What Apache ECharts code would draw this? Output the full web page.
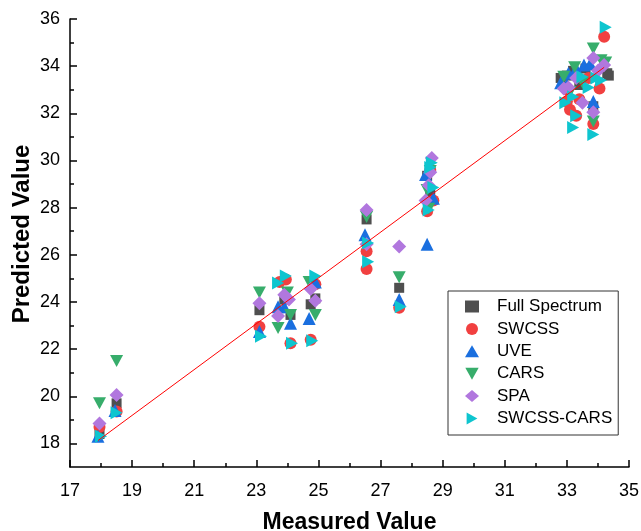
<!DOCTYPE html>
<html>
<head>
<meta charset="utf-8">
<script src="https://cdn.jsdelivr.net/npm/echarts@6/dist/echarts.min.js"></script>
<style>
  html, body { margin: 0; padding: 0; background: #fff; }
  #chart { width: 641px; height: 531px; }
</style>
</head>
<body>
<div id="chart"></div>
<script>
// measured vs predicted, one list per model
const fullSpectrum = [
  [17.95, 18.4], [18.5, 19.7], [23.1, 23.65], [23.9, 24.1], [24.1, 23.45], [24.75, 23.9], [24.9, 24.15],
  [26.55, 27.5], [27.6, 24.6], [28.5, 29.35], [28.6, 28.6], [32.8, 33.5], [33.0, 33.6], [33.2, 33.8],
  [33.6, 33.9], [33.85, 32.3], [34.3, 33.7], [34.35, 33.6], [33.4, 33.2]
];
const swcss = [
  [17.95, 18.7], [18.5, 19.35], [23.1, 22.95], [23.75, 24.85], [23.95, 24.95], [24.1, 22.25], [24.75, 22.4],
  [24.9, 24.75], [26.55, 26.15], [26.55, 25.4], [27.6, 23.75], [28.5, 27.85], [28.7, 28.3], [28.6, 29.6],
  [33.0, 33.0], [33.1, 32.15], [33.3, 31.9], [33.4, 32.6], [33.85, 31.55], [34.05, 33.05], [34.2, 35.25],
  [33.7, 33.5], [33.0, 32.5]
];
const uve = [
  [17.9, 18.3], [18.45, 19.4], [23.1, 22.75], [23.7, 23.8], [23.9, 23.8], [24.1, 23.1], [24.7, 23.3],
  [24.9, 24.85], [26.5, 26.85], [27.6, 24.1], [28.45, 29.4], [28.7, 28.4], [28.5, 26.45], [32.8, 33.3],
  [33.05, 33.7], [33.55, 34.05], [33.75, 34.1], [33.85, 32.5], [33.3, 33.9], [33.0, 33.2]
];
const cars = [
  [17.95, 19.7], [18.5, 21.5], [23.1, 24.4], [23.7, 22.9], [24.0, 24.4], [24.1, 23.45], [24.7, 24.85],
  [24.9, 23.45], [26.55, 27.6], [27.6, 25.05], [28.5, 28.75], [28.6, 29.55], [28.55, 27.95], [32.9, 33.55],
  [33.25, 33.95], [33.85, 34.75], [34.1, 34.25], [34.25, 34.15], [33.85, 31.65], [33.5, 33.3], [33.1, 32.9]
];
const spa = [
  [17.95, 18.85], [18.5, 20.05], [23.1, 23.95], [23.7, 23.4], [23.9, 24.3], [24.05, 24.1], [24.75, 24.55],
  [24.9, 24.05], [26.55, 27.9], [26.55, 26.45], [27.6, 26.35], [28.65, 30.1], [28.6, 29.5], [28.55, 28.95],
  [28.45, 28.3], [32.9, 33.05], [33.05, 33.1], [33.5, 32.45], [33.85, 32.05], [33.85, 34.35], [34.2, 34.05],
  [33.3, 33.5], [34.0, 33.8]
];
const swcssCars = [
  [18.0, 18.3], [18.5, 19.3], [23.15, 22.55], [23.7, 24.8], [23.95, 25.1], [24.15, 22.25], [24.8, 22.35],
  [24.9, 25.1], [26.6, 26.5], [26.6, 25.7], [27.65, 23.8], [28.65, 29.9], [28.6, 29.7], [28.7, 28.85],
  [28.55, 27.9], [32.95, 32.45], [33.2, 32.7], [33.3, 31.9], [33.2, 31.4], [33.85, 31.1], [33.5, 33.55],
  [33.95, 33.5], [34.1, 33.4], [33.7, 33.1], [34.25, 35.65]
];
const fitX = [17.9, 34.2];
const fitY = [18.12, 33.95];
const yMajor = [18, 20, 22, 24, 26, 28, 30, 32, 34, 36];
const yMinor = [19, 21, 23, 25, 27, 29, 31, 33, 35];

const font = "'Liberation Sans', Arial, sans-serif";
const chart = echarts.init(document.getElementById("chart"));

function pts(name, data, symbol, size, color) {
  return {
    name: name, type: "scatter", data: data,
    symbol: symbol, symbolSize: size,
    itemStyle: { color: color, opacity: 1 },
    emphasis: { disabled: true }
  };
}

chart.setOption({
  animation: false,
  grid: { left: 70, right: 12, top: 19, bottom: 64, outerBoundsMode: "none" },
  xAxis: {
    type: "value", min: 17, max: 35, interval: 2,
    name: "Measured Value", nameLocation: "middle", nameGap: 44, nameMoveOverlap: false,
    nameTextStyle: { fontFamily: font, fontSize: 23, fontWeight: "bold", color: "#000" },
    axisLine: { lineStyle: { color: "#000", width: 1.5 } },
    axisTick: { inside: true, length: 7, lineStyle: { color: "#000", width: 1.5 } },
    minorTick: { show: true, splitNumber: 2, length: 4, lineStyle: { color: "#000", width: 1.5 } },
    axisLabel: { fontFamily: font, fontSize: 18, color: "#000", margin: 15 },
    splitLine: { show: false }
  },
  yAxis: [{
    type: "value", min: 17, max: 36,
    name: "Predicted Value", nameLocation: "middle", nameGap: 36, nameMoveOverlap: false,
    nameTextStyle: { fontFamily: font, fontSize: 24, fontWeight: "bold", color: "#000", padding: [0, 0, 0, 18] },
    axisLine: { lineStyle: { color: "#000", width: 1.5 } },
    axisTick: { inside: true, length: 7, customValues: yMajor, lineStyle: { color: "#000", width: 1.5 } },
    axisLabel: { fontFamily: font, fontSize: 18, color: "#000", margin: 10, customValues: yMajor },
    splitLine: { show: false }
  }, {
    type: "value", min: 17, max: 36, position: "left",
    axisLine: { show: false },
    axisTick: { inside: true, length: 4, customValues: yMinor, lineStyle: { color: "#000", width: 1.5 } },
    axisLabel: { show: false },
    splitLine: { show: false }
  }],
  legend: {
    orient: "vertical", left: 448, top: 291,
    padding: [7, 6, 8, 17],
    itemWidth: 14, itemHeight: 12, itemGap: 5.4,
    borderColor: "#333", borderWidth: 1,
    textStyle: { fontFamily: font, fontSize: 17, color: "#000", padding: [0, 0, 0, 13] },
    data: ["Full Spectrum", "SWCSS", "UVE", "CARS", "SPA", "SWCSS-CARS"]
  },
  series: [
    pts("Full Spectrum", fullSpectrum, "rect", 10, "#4f4f4f"),
    pts("SWCSS", swcss, "circle", 12, "#f14040"),
    pts("UVE", uve, "triangle", 13, "#1a6fdf"),
    pts("CARS", cars, "path://M0,0L10,0L5,9Z", [13, 12], "#37ad6b"),
    pts("SPA", spa, "diamond", 14, "#b177de"),
    pts("SWCSS-CARS", swcssCars, "path://M0,0L9,5L0,10Z", [12, 13], "#0ec5cf"),
    {
      type: "line", data: fitX.map((x, i) => [x, fitY[i]]),
      symbol: "none", z: 5,
      lineStyle: { color: "#ff0000", width: 1 },
      emphasis: { disabled: true }
    }
  ]
});
</script>
</body>
</html>
